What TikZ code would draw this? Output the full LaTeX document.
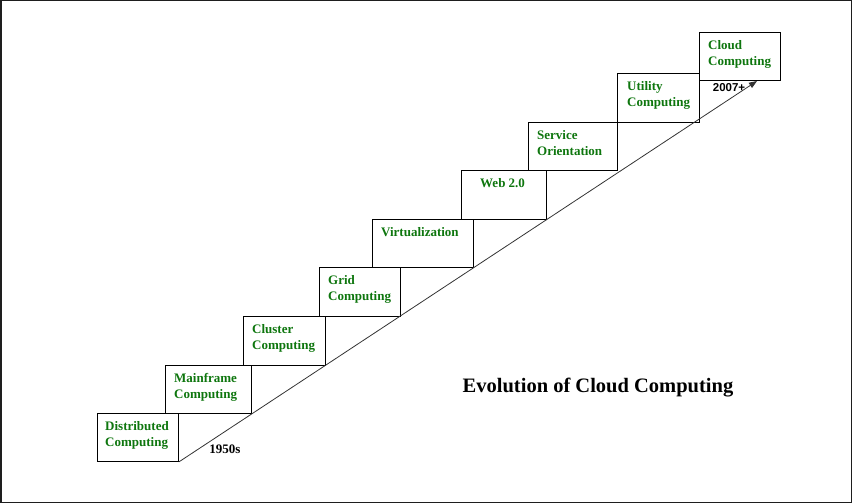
\documentclass[tikz,border=0pt]{standalone}
\usepackage{fontspec}
\setmainfont{Liberation Serif}
\newfontfamily\yearfont{Liberation Sans}
\usetikzlibrary{arrows.meta}
\definecolor{ink}{HTML}{000000}
\definecolor{stepgreen}{HTML}{0E760E}
\definecolor{linegray}{HTML}{333333}
\definecolor{framegray}{HTML}{1E1E1E}

\begin{document}
\begin{tikzpicture}[
  x=1pt, y=-1pt,
  stepbox/.style={draw=ink, line width=0.9pt, anchor=north west, inner sep=0pt, minimum height=48pt},
  steplabel/.style={anchor=north west, align=left, inner sep=0pt, text=stepgreen, font=\fontsize{13}{16}\selectfont\bfseries},
  year/.style={text=ink, font=\fontsize{13}{15}\selectfont\bfseries},
  rise/.style={draw=linegray, line width=0.8pt, -{Triangle[length=8pt,width=6pt]}}
]
\useasboundingbox (0,0) rectangle (852,503);
\draw[draw=framegray, line width=1.5pt] (0.75,0.75) rectangle (851.25,502.25);

% the steps, bottom to top
\node[stepbox, minimum width=81pt] (dist) at (97,413) {};
\node[steplabel] (distlbl) at ([shift={(8,8)}]dist.north west) {Distributed\\Computing};
\node[stepbox, minimum width=86pt] (main) at (165,365) {};
\node[steplabel] (mainlbl) at ([shift={(9,8)}]main.north west) {Mainframe\\Computing};
\node[stepbox, minimum width=82pt, minimum height=49pt] (clus) at (243,316) {};
\node[steplabel] (cluslbl) at ([shift={(9,8)}]clus.north west) {Cluster\\Computing};
\node[stepbox, minimum width=81pt, minimum height=49pt] (grid) at (319,267) {};
\node[steplabel] (gridlbl) at ([shift={(9,8)}]grid.north west) {Grid\\Computing};
\node[stepbox, minimum width=101pt] (virt) at (372,219) {};
\node[steplabel] (virtlbl) at ([shift={(9,8)}]virt.north west) {Virtualization};
\node[stepbox, minimum width=85pt, minimum height=49pt] (web) at (461,170) {};
\node[steplabel] (weblbl) at ([shift={(19,8)}]web.north west) {Web 2.0};
\node[stepbox, minimum width=89pt] (serv) at (528,122) {};
\node[steplabel] (servlbl) at ([shift={(9,8)}]serv.north west) {Service\\Orientation};
\node[stepbox, minimum width=82pt, minimum height=49pt] (util) at (617,73) {};
\node[steplabel] (utillbl) at ([shift={(10,8)}]util.north west) {Utility\\Computing};
\node[stepbox, minimum width=81pt] (cloud) at (699,32) {};
\node[steplabel] (cloudlbl) at ([shift={(9,8)}]cloud.north west) {Cloud\\Computing};

% time line
\coordinate (tip) at (757,81);
\draw[rise] (dist.south east) -- (tip);
\node[year] (start) at (225,449) {1950s};
\node[year, font=\fontsize{11.5}{14}\selectfont\yearfont\bfseries] (end) at (729,88) {2007+};

\node[font=\fontsize{20.5}{24}\selectfont\bfseries] (title) at (598,388) {Evolution of Cloud Computing};
\end{tikzpicture}
\end{document}
